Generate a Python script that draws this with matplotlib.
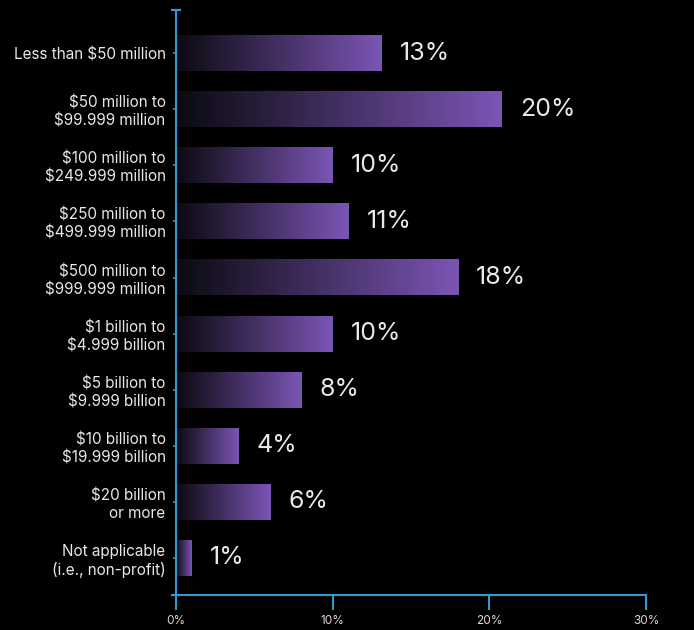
import matplotlib
matplotlib.use("Agg")
import matplotlib.pyplot as plt
import numpy as np
from matplotlib.colors import LinearSegmentedColormap

categories = [
    "Less than $50 million",
    "$50 million to\n$99.999 million",
    "$100 million to\n$249.999 million",
    "$250 million to\n$499.999 million",
    "$500 million to\n$999.999 million",
    "$1 billion to\n$4.999 billion",
    "$5 billion to\n$9.999 billion",
    "$10 billion to\n$19.999 billion",
    "$20 billion\nor more",
    "Not applicable\n(i.e., non-profit)",
]
values = [13.1, 20.8, 10.0, 11.0, 18.0, 10.0, 8.0, 4.0, 6.0, 1.0]
value_labels = ["13%", "20%", "10%", "11%", "18%", "10%", "8%", "4%", "6%", "1%"]
x_ticks = [0, 10, 20, 30]
x_tick_labels = ["0%", "10%", "20%", "30%"]

BG = "#000000"
AXIS = "#3199d4"
TEXT = "#e8e8e8"
cmap = LinearSegmentedColormap.from_list("g", ["#0b0a10", "#7b55b5"])

plt.rcParams["font.family"] = ["Inter", "DejaVu Sans"]

fig = plt.figure(figsize=(6.94, 6.30), dpi=100, facecolor=BG)
ax = fig.add_axes([0.2536, 0.0556, 0.6775, 0.9285], facecolor=BG)

pos = np.arange(len(categories))
bars = ax.barh(pos, values, height=0.64, color="none", edgecolor="none")
grad = np.linspace(0, 1, 256).reshape(1, -1)
for b, lab in zip(bars, value_labels):
    x0, y0 = b.get_x(), b.get_y()
    w, h = b.get_width(), b.get_height()
    ax.imshow(grad, cmap=cmap, aspect="auto", extent=[x0, x0 + w, y0 + h, y0],
              interpolation="bicubic", zorder=2)
    ax.text(x0 + w + 1.15, b.get_y() + h / 2, lab, color=TEXT, fontsize=18,
            fontweight="normal", va="center", ha="left", zorder=3)

ax.set_xlim(0, 30)
ax.set_ylim(9.66, -0.77)
ax.set_xticks(x_ticks)
ax.set_xticklabels(x_tick_labels, color="#d8d8d8", fontsize=8.5)
ax.set_yticks(pos)
ax.set_yticklabels(categories, color=TEXT, fontsize=11, linespacing=1.25)
ax.set_yticks([9.66, -0.77], minor=True)

for s in ["top", "right"]:
    ax.spines[s].set_visible(False)
for s in ["left", "bottom"]:
    ax.spines[s].set_color(AXIS)
    ax.spines[s].set_linewidth(1.5)

ax.tick_params(axis="x", colors=AXIS, length=11, width=1.5, pad=3.5, labelcolor="#d8d8d8")
ax.tick_params(axis="y", which="major", colors=AXIS, length=2.5, width=1.2, pad=5, labelcolor=TEXT)
ax.tick_params(axis="y", which="minor", colors=AXIS, length=7, width=1.5, direction="inout")

fig.savefig("out.png", dpi=100, facecolor=BG)
